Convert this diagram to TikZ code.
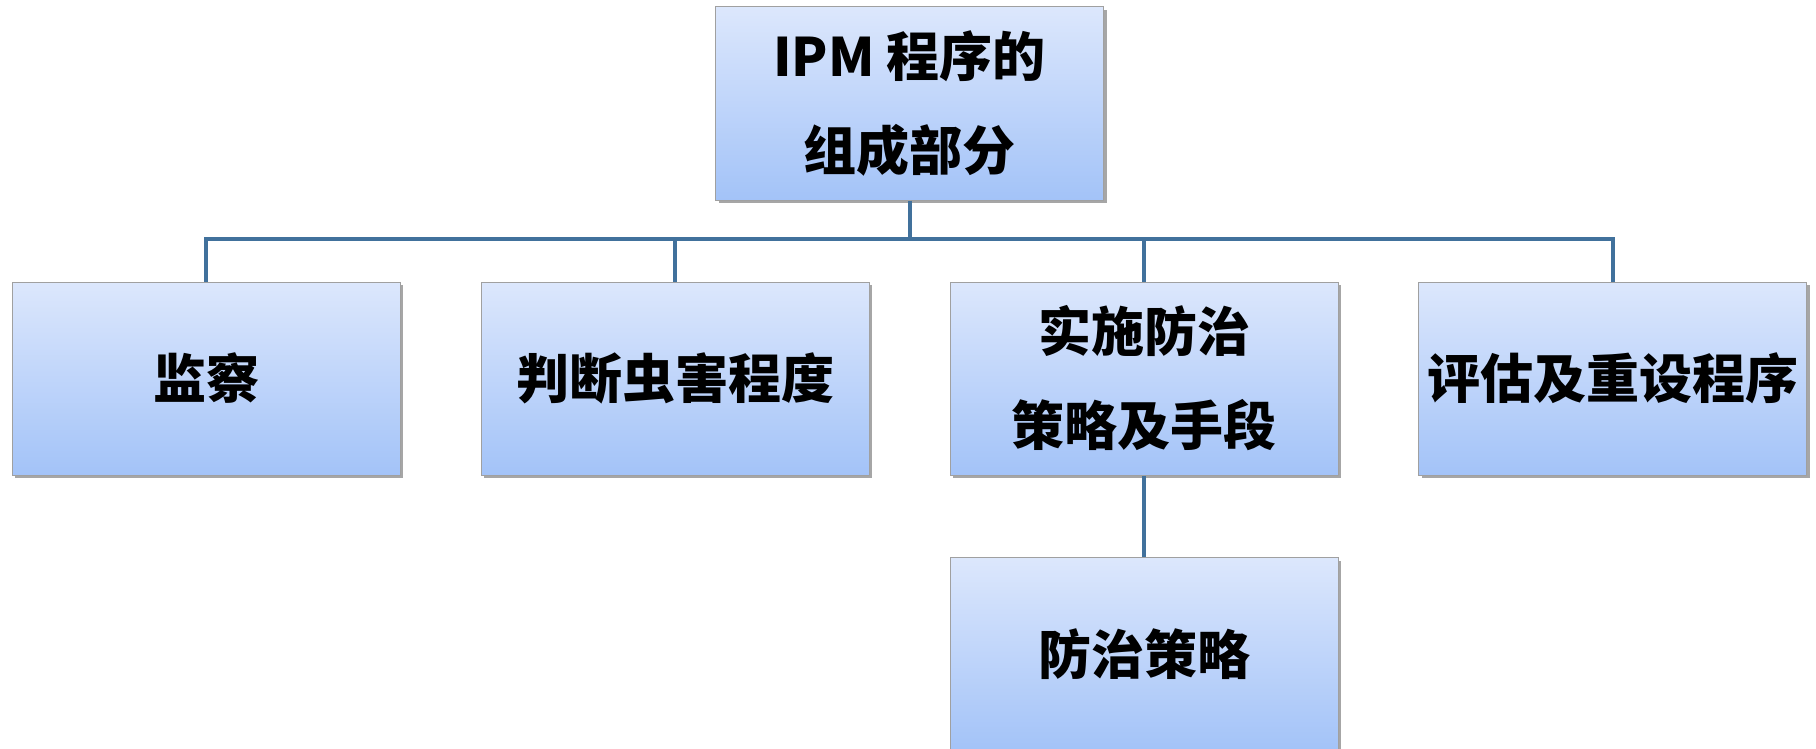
\documentclass[tikz,border=0pt]{standalone}
\usepackage{fontspec}
\newfontfamily\cjk{Noto Sans CJK SC}
\usetikzlibrary{shadows}
\definecolor{linkblue}{RGB}{65,113,156}
\definecolor{boxtop}{RGB}{220,231,252}
\definecolor{boxbot}{RGB}{163,195,248}
\definecolor{boxedge}{RGB}{160,160,160}
\tikzset{
	partbox/.style={draw=boxedge, line width=0.5pt, top color=boxtop, bottom color=boxbot,
		minimum width=194pt, minimum height=96.5pt, inner sep=0pt, align=center,
		font=\cjk\bfseries\fontsize{26.5}{47}\selectfont,
		drop shadow={shadow xshift=1.5pt, shadow yshift=-1.5pt, fill=black, opacity=0.35}},
	link/.style={draw=linkblue, line width=2pt}
}
\begin{document}
\begin{tikzpicture}[x=0.5pt,y=-0.5pt]
	\useasboundingbox (0,0) rectangle (1816,749);
	
	% top and second row
	\node[partbox] (root) at (909.5,103.5) {IPM 程序的\\组成部分};
	\node[partbox] (watch) at (206,378.5) {监察};
	\node[partbox] (judge) at (675,378.5) {判断虫害程度};
	\node[partbox] (act) at (1144,378.5) {实施防治\\策略及手段};
	\node[partbox] (review) at (1612.5,378.5) {评估及重设程序};
	
	% third row
	\node[partbox, anchor=north] (plan) at (1144,557) {防治策略};
	
	\coordinate (bar) at (909.5,239);
	
	\draw[link] (root.south) -- (root.south |- bar);
	\draw[link] (watch.north) -- (watch.north |- bar) -- (review.north |- bar) -- (review.north);
	\draw[link] (judge.north) -- (judge.north |- bar);
	\draw[link] (act.north) -- (act.north |- bar);
	\draw[link] (act.south) -- (plan.north);
\end{tikzpicture}
\end{document}
